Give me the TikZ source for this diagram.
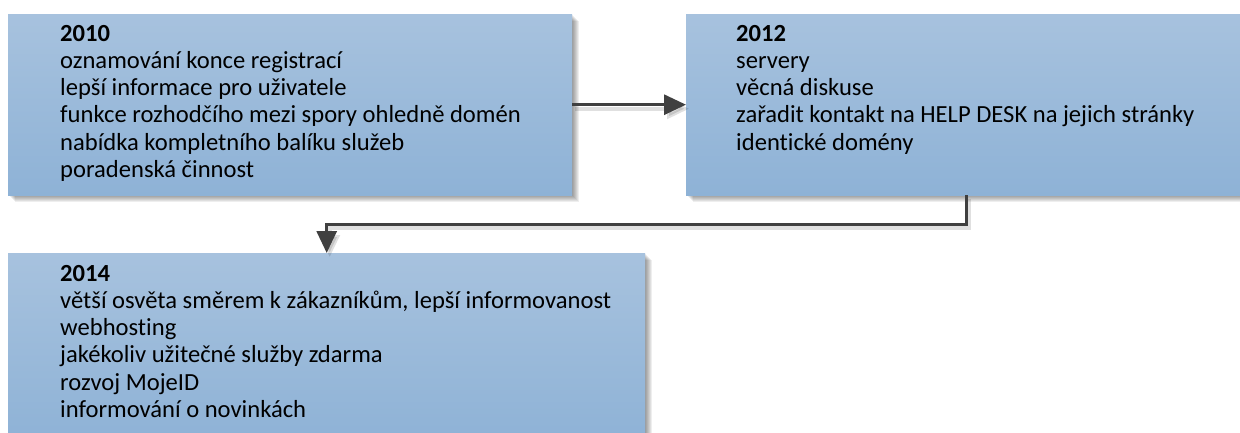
\documentclass[tikz,border=0pt]{standalone}
\usepackage{fontspec}
\setmainfont[Ligatures=CommonOff]{Carlito}
\usetikzlibrary{arrows.meta}
\definecolor{boxtop}{RGB}{167,194,222}
\definecolor{boxbot}{RGB}{142,178,214}
\definecolor{conn}{RGB}{64,64,64}
\tikzset{
 panel/.style={rectangle, draw=none, top color=boxtop, bottom color=boxbot, inner sep=0, anchor=north west},
 panel text/.style={anchor=north west, inner sep=0, align=left, font=\fontsize{24.6}{27.2}\selectfont, text=black},
 link/.style={draw=conn, line width=3, -{Triangle[length=22,width=20]},
   preaction={draw=black, draw opacity=0.12, fill opacity=0.12, line width=4, transform canvas={shift={(3,4)}}}},
}
\begin{document}
\begin{tikzpicture}[x=1pt,y=-1pt]
\useasboundingbox (0,0) rectangle (1240,432);
\clip (0,0) rectangle (1240,432);
% shadows
\foreach \d in {1,...,7} {
  \fill[black, opacity=0.065] (8+\d,14+\d) rectangle (572+\d,195+\d);
  \fill[black, opacity=0.065] (686+\d,14+\d) rectangle (1246+\d,195+\d);
  \fill[black, opacity=0.065] (8+\d,253+\d) rectangle (645+\d,445+\d);
}
\node[panel, minimum width=564, minimum height=181] (b1) at (8,14) {};
\node[panel, minimum width=560, minimum height=181] (b2) at (686,14) {};
\node[panel, minimum width=637, minimum height=190] (b3) at (8,253) {};

\node[panel text] (t1) at ([shift={(52,11)}]b1.north west) {{\bfseries 2010}\\
oznamování konce registrací\\
lepší informace pro uživatele\\
funkce rozhodčího mezi spory ohledně domén\\
nabídka kompletního balíku služeb\\
poradenská činnost};
\node[panel text] (t2) at ([shift={(50,11)}]b2.north west) {{\bfseries 2012}\\
servery\\
věcná diskuse\\
zařadit kontakt na HELP DESK na jejich stránky\\
identické domény};
\node[panel text] (t3) at ([shift={(52,12)}]b3.north west) {{\bfseries 2014}\\
větší osvěta směrem k zákazníkům, lepší informovanost\\
webhosting\\
jakékoliv užitečné služby zdarma\\
rozvoj MojeID\\
informování o novinkách};

\draw[link] (b1.east) -- (b2.west);
\draw[link] (b2.south) -- ++(0,29) -| (b3.north);
\end{tikzpicture}
\end{document}
